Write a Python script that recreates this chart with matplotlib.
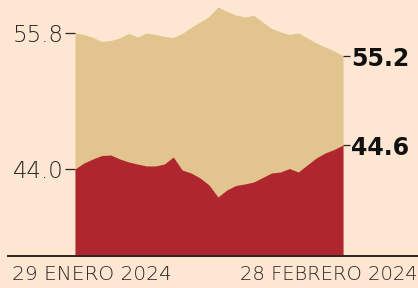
import numpy as np
import matplotlib
matplotlib.use('Agg')
import matplotlib.pyplot as plt

# daily values, 29 jan -> 28 feb 2024 (chart scale)
days = np.arange(31)
top = [55.80, 55.67, 55.41, 55.06, 55.15, 55.37, 55.76, 55.45, 55.80, 55.67,
       55.50, 55.41, 55.76, 56.28, 56.75, 57.23, 58.06, 57.66, 57.36, 57.19,
       57.32, 56.75, 56.19, 55.89, 55.67, 55.80, 55.37, 54.93, 54.58, 54.24, 53.80]
red = [44.00, 44.52, 44.87, 45.17, 45.21, 44.87, 44.61, 44.43, 44.26, 44.26,
       44.43, 45.04, 43.91, 43.65, 43.22, 42.61, 41.57, 42.18, 42.57, 42.70,
       42.87, 43.26, 43.65, 43.74, 44.04, 43.74, 44.35, 44.95, 45.39, 45.69, 46.08]
start_labels = ['55.8', '44.0']
end_labels = ['55.2', '44.6']
date_labels = ['29 ENERO 2024', '28 FEBRERO 2024']

bg = '#fde6d2'
beige = '#e2c48e'
crimson = '#b0262f'
ink = '#2b2420'
base = 36.45

plt.rcParams['font.family'] = ['DejaVu Sans']

fig = plt.figure(figsize=(4.18, 2.88), dpi=100, facecolor=bg)
ax = fig.add_axes([75/418, 32/288, 268/418, 256/288])
ax.set_facecolor(bg)

ax.fill_between(days, base, top, color=beige, lw=0)
ax.fill_between(days, base, red, color=crimson, lw=0)

ax.set_xlim(0, 30)
ax.set_ylim(base, base + 256 * 0.08676)
for s in ax.spines.values():
    s.set_visible(False)
ax.set_xticks([])

# left ticks
ax.set_yticks([top[0], red[0]])
ax.set_yticklabels(start_labels, fontsize=16.5, color=ink, fontweight='light')
ax.tick_params(axis='y', length=7, width=0.9, color=ink, pad=1)

# right ticks
ax2 = ax.twinx()
for s in ax2.spines.values():
    s.set_visible(False)
ax2.set_ylim(ax.get_ylim())
ax2.set_yticks([top[-1], red[-1]])
ax2.set_yticklabels(end_labels, fontsize=17, fontweight='bold', color='#111111')
ax2.tick_params(axis='y', length=5, width=0.9, color=ink, pad=1)

# baseline
ax.plot([-0.25, 1.3], [base, base], transform=ax.get_yaxis_transform(),
        color=ink, lw=1.4, clip_on=False)

ax.text(-0.235, -0.072, date_labels[0], transform=ax.transAxes, ha='left', va='center',
        fontsize=14.5, color=ink, fontweight='light')
ax.text(0.615, -0.072, date_labels[1], transform=ax.transAxes, ha='left', va='center',
        fontsize=14, color=ink, fontweight='light')

fig.savefig('out.png', dpi=100, facecolor=bg)
